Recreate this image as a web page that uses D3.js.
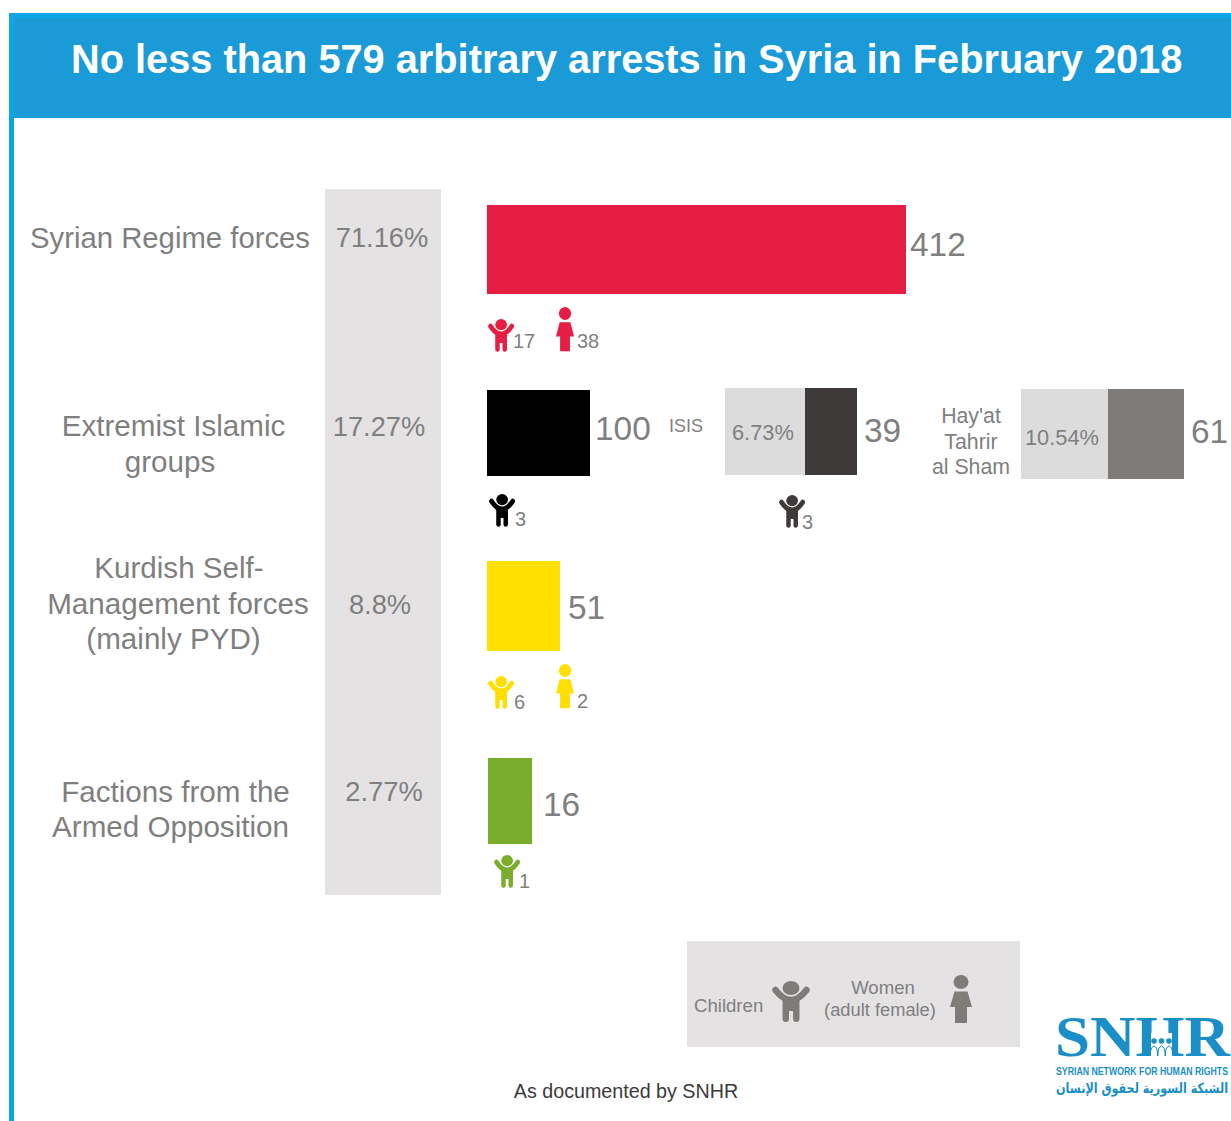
<!DOCTYPE html>
<html>
<head>
<meta charset="utf-8">
<script src="https://cdn.jsdelivr.net/npm/d3@7"></script>
<style>
  html, body { margin: 0; padding: 0; background: #fff; }
  svg { display: block; }
  text { font-family: "Liberation Sans", Arial, sans-serif; fill: #7f7f7f; }
</style>
</head>
<body>
<svg id="chart" width="1231" height="1121"></svg>
<script>
var title = "No less than 579 arbitrary arrests in Syria in February 2018";
var footer = "As documented by SNHR";

var groups = ["Syrian Regime forces", "Extremist Islamic groups", "Kurdish Self-Management forces", "Factions from the Armed Opposition"];
var group_values = [412, 100, 51, 16];
var group_shares = ["71.16%", "17.27%", "8.8%", "2.77%"];
var group_children = [17, 3, 6, 1];
var group_women = [38, null, 2, null];

var sub_groups = ["ISIS", "Hay'at Tahrir al Sham"];
var sub_values = [39, 61];
var sub_shares = ["6.73%", "10.54%"];
var sub_children = [3, null];

var svg = d3.select("#chart");
var grey = "#7f7f7f";

// the bars in the original are not to a linear scale, so the scale follows what is drawn
var x = d3.scaleLinear()
    .domain([0, 16, 39, 51, 61, 100, 412])
    .range([0, 44, 52, 73, 76, 103, 419]);

var group_layout = [
  {colour: "#e61e44", left: 487, top: 205, height: 89, valueX: 910, valueY: 256, labelSize: 29.3, labelX: [170], labelY: [248], shareX: 382, shareY: 247, childX: 488, childY: 319, womanX: 556, womanY: 307, childText: [513, 348], womanText: [577, 348]},
  {colour: "#000000", left: 487, top: 390, height: 86, valueX: 595, valueY: 440, labelSize: 29.6, labelX: [173.5, 170], labelY: [436, 472], shareX: 379, shareY: 436, childX: 489, childY: 494, childText: [515, 526]},
  {colour: "#ffdf00", left: 487, top: 561, height: 90, valueX: 568, valueY: 619, labelSize: 29.6, labelX: [179, 178, 173.5], labelY: [578, 614, 649], shareX: 380, shareY: 614, childX: 488, childY: 676, womanX: 556, womanY: 664, childText: [514, 709], womanText: [577, 708]},
  {colour: "#7bad2d", left: 488, top: 758, height: 86, valueX: 543, valueY: 816, labelSize: 29.6, labelX: [175.5, 170.5], labelY: [802, 837], shareX: 384, shareY: 801, childX: 494, childY: 855, childText: [519, 888]}
];
var group_lines = [
  ["Syrian Regime forces"],
  ["Extremist Islamic", "groups"],
  ["Kurdish Self-", "Management forces", "(mainly PYD)"],
  ["Factions from the", "Armed Opposition"]
];

var sub_layout = [
  {colour: "#3e3a39", shadeLeft: 725, left: 805, top: 388, height: 87, shareX: 732, shareY: 440, valueX: 864, valueY: 442, labelX: 686, labelY: [432], labelSize: 18, childX: 779, childY: 495, childText: [802, 529]},
  {colour: "#7f7b78", shadeLeft: 1021, left: 1108, top: 389, height: 90, shareX: 1025, shareY: 445, valueX: 1191, valueY: 443, labelX: 971, labelY: [423, 449, 474], labelSize: 21.3}
];
var sub_lines = [["ISIS"], ["Hay'at", "Tahrir", "al Sham"]];

function label(parent, str, px, py, size, anchor, colour) {
  return parent.append("text")
      .attr("x", px)
      .attr("y", py)
      .attr("font-size", size)
      .attr("text-anchor", anchor || "start")
      .style("fill", colour || grey)
      .text(str);
}

// child figure, drawn in a 38x41 box
function child_icon(px, py, sx, sy, colour) {
  var g = svg.append("g").attr("transform", "translate(" + px + "," + py + ") scale(" + sx + "," + sy + ")");
  g.append("ellipse").attr("cx", 19).attr("cy", 7).attr("rx", 8.5).attr("ry", 7).style("fill", colour);
  g.append("path")
      .attr("d", "M3.5,9 Q19,29 34.5,9")
      .style("fill", "none").style("stroke", colour).style("stroke-width", 6.5).style("stroke-linecap", "round");
  g.append("path")
      .attr("d", "M10.5,19 L27.5,19 L27.5,37.5 Q27.5,41 24,41 Q21,41 21,37.5 L21,30 L17,30 L17,37.5 Q17,41 14,41 Q10.5,41 10.5,37.5 Z")
      .style("fill", colour);
}

// woman figure, drawn in a 22x48 box
function woman_icon(px, py, sx, sy, colour) {
  var g = svg.append("g").attr("transform", "translate(" + px + "," + py + ") scale(" + sx + "," + sy + ")");
  g.append("ellipse").attr("cx", 11).attr("cy", 7).attr("rx", 7.5).attr("ry", 7).style("fill", colour);
  g.append("path")
      .attr("d", "M4.5,16.5 L17.5,16.5 L22,32 L17,32 L17,48 L5,48 L5,32 L0,32 Z")
      .style("fill", colour);
}

// header
svg.append("rect").attr("x", 9).attr("y", 13).attr("width", 1222).attr("height", 105).style("fill", "#0ca6e4");
svg.append("rect").attr("x", 9).attr("y", 118).attr("width", 5).attr("height", 1003).style("fill", "#0ca6e4");
svg.append("rect").attr("x", 14).attr("y", 18).attr("width", 1217).attr("height", 100).style("fill", "#1a9ad6");
label(svg, title, 71, 73, 39.75, "start", "#ffffff").style("font-weight", "bold");

// grey column behind the shares
svg.append("rect").attr("x", 325).attr("y", 189).attr("width", 116).attr("height", 706).style("fill", "#e4e2e3");

groups.forEach(function(name, i) {
  var l = group_layout[i];
  group_lines[i].forEach(function(line, j) {
    label(svg, line, l.labelX[j], l.labelY[j], l.labelSize, "middle");
  });
  label(svg, group_shares[i], l.shareX, l.shareY, 27.3, "middle");
  svg.append("rect")
      .attr("x", l.left).attr("y", l.top)
      .attr("width", x(group_values[i])).attr("height", l.height)
      .style("fill", l.colour);
  label(svg, group_values[i], l.valueX, l.valueY, 33.4);
  child_icon(l.childX, l.childY, 0.69, 0.8, l.colour);
  label(svg, group_children[i], l.childText[0], l.childText[1], 20);
  if (group_women[i] !== null) {
    woman_icon(l.womanX, l.womanY, 0.82, 0.92, l.colour);
    label(svg, group_women[i], l.womanText[0], l.womanText[1], 20);
  }
});

sub_groups.forEach(function(name, i) {
  var l = sub_layout[i];
  sub_lines[i].forEach(function(line, j) {
    label(svg, line, l.labelX, l.labelY[j], l.labelSize, "middle");
  });
  svg.append("rect")
      .attr("x", l.shadeLeft).attr("y", l.top)
      .attr("width", l.left - l.shadeLeft).attr("height", l.height)
      .style("fill", "#dcdcdc");
  svg.append("rect")
      .attr("x", l.left).attr("y", l.top)
      .attr("width", x(sub_values[i])).attr("height", l.height)
      .style("fill", l.colour);
  label(svg, sub_shares[i], l.shareX, l.shareY, 21.8);
  label(svg, sub_values[i], l.valueX, l.valueY, 33.4);
  if (sub_children[i] !== null) {
    child_icon(l.childX, l.childY, 0.69, 0.8, l.colour);
    label(svg, sub_children[i], l.childText[0], l.childText[1], 20);
  }
});

// legend
svg.append("rect").attr("x", 687).attr("y", 941).attr("width", 333).attr("height", 106).style("fill", "#e4e2e3");
label(svg, "Children", 694, 1012, 18.6);
child_icon(772, 981, 1, 1, "#7f7b78");
label(svg, "Women", 883, 994, 18.6, "middle");
label(svg, "(adult female)", 880, 1016, 18.3, "middle");
woman_icon(950, 975, 1, 1, "#7f7b78");

label(svg, footer, 626, 1098, 19.7, "middle", "#3a3a3a");

// logo
var logo = svg.append("g");
var blue = "#1a8fc7";
label(logo, "SNHR", 1055, 1056, 58, "start", blue)
    .style("font-family", "'Liberation Serif', serif")
    .style("font-weight", "bold")
    .attr("textLength", 175)
    .attr("lengthAdjust", "spacingAndGlyphs");
// people in the middle of the H
logo.append("rect").attr("x", 1151).attr("y", 1033).attr("width", 21).attr("height", 25).style("fill", "#ffffff");
[1154, 1161.5, 1169].forEach(function(cx) {
  logo.append("circle").attr("cx", cx).attr("cy", 1041).attr("r", 2.8).style("fill", blue);
  logo.append("path")
      .attr("d", "M" + (cx - 3.5) + ",1056 Q" + (cx - 4) + ",1047 " + cx + ",1046 Q" + (cx + 4) + ",1047 " + (cx + 3.5) + ",1056")
      .style("fill", "none").style("stroke", blue).style("stroke-width", 1);
});
label(logo, "SYRIAN NETWORK FOR HUMAN RIGHTS", 1056, 1075, 10.5, "start", blue)
    .style("font-weight", "bold")
    .attr("textLength", 172)
    .attr("lengthAdjust", "spacingAndGlyphs");
label(logo, "الشبكة السورية لحقوق الإنسان", 1056, 1093, 14, "start", blue)
    .style("font-family", "'DejaVu Sans', sans-serif")
    .style("font-weight", "bold")
    .attr("textLength", 172)
    .attr("lengthAdjust", "spacingAndGlyphs");
</script>
</body>
</html>
